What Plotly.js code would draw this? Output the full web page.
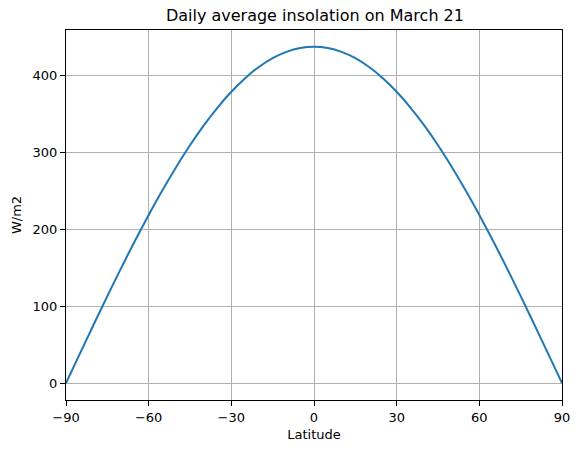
<!DOCTYPE html>
<html>
<head>
<meta charset="utf-8">
<script src="https://cdn.plot.ly/plotly-3.0.1.min.js"></script>
<style>
  html, body { margin: 0; padding: 0; background: #fff; }
  #plot { width: 580px; height: 453px; }
</style>
</head>
<body>
<div id="plot"></div>
<script>
// latitude (degrees) and daily mean insolation (W/m2)
var latitude = [-90, -85, -80, -75, -70, -65, -60, -55, -50, -45, -40, -35, -30, -25, -20, -15, -10, -5,
                0, 5, 10, 15, 20, 25, 30, 35, 40, 45, 50, 55, 60, 65, 70, 75, 80, 85, 90];
var insolation = [0, 38.2, 76.0, 113.3, 149.8, 185.1, 219.0, 251.2, 281.5, 309.7, 335.5, 358.8, 379.3, 397.0, 411.6, 423.1, 431.3, 436.3,
                  438.0, 436.3, 431.3, 423.1, 411.6, 397.0, 379.3, 358.8, 335.5, 309.7, 281.5, 251.2, 219.0, 185.1, 149.8, 113.3, 76.0, 38.2, 0];
var xTicks = [-90, -60, -30, 0, 30, 60, 90];
var yTicks = [0, 100, 200, 300, 400];

var trace = {x: latitude,
             y: insolation,
             type: "scatter",
             mode: "lines",
             line: {color: "#1f77b4", width: 2, shape: "spline", smoothing: 0.6}};

var axisStyle = {
    showline: true,
    mirror: true,
    linecolor: "#000",
    linewidth: 1,
    ticks: "outside",
    ticklen: 5,
    tickcolor: "#000",
    showgrid: true,
    gridcolor: "#b0b0b0",
    gridwidth: 1,
    zeroline: false,
    tickfont: {size: 13, color: "#000"}
};

var layout = {
    width: 580,
    height: 453,
    margin: {l: 66, r: 18, t: 30, b: 53},
    paper_bgcolor: "#fff",
    plot_bgcolor: "#fff",
    font: {family: "DejaVu Sans", color: "#000"},
    showlegend: false,
    title: {text: "Daily average insolation on March 21",
            font: {size: 16, color: "#000"},
            x: 0.543, xanchor: "center", y: 0.967, yanchor: "middle"},
    xaxis: Object.assign({}, axisStyle, {
        range: [-90, 90],
        tickvals: xTicks,
        ticktext: xTicks.map(v => v < 0 ? "\u2212" + (-v) : String(v)),
        title: {text: "Latitude", font: {size: 13}, standoff: 6}
    }),
    yaxis: Object.assign({}, axisStyle, {
        range: [-21.9, 459.7],
        tickvals: yTicks,
        title: {text: "W/m2", font: {size: 13}, standoff: 8}
    })
};

Plotly.newPlot("plot", [trace], layout, {staticPlot: true});
</script>
</body>
</html>
